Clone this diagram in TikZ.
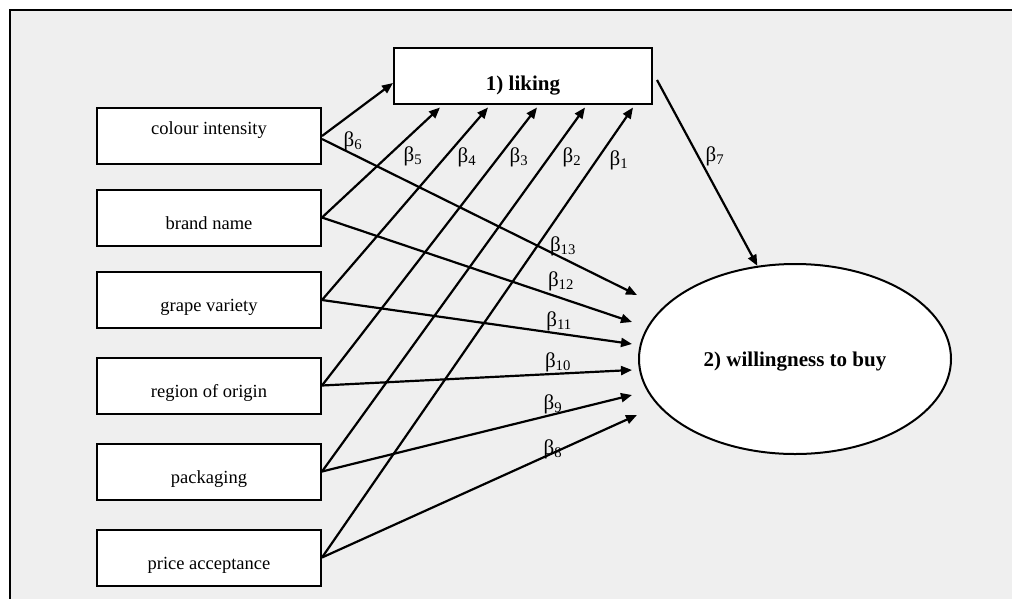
\documentclass[tikz,border=0pt]{standalone}
\usepackage{fontspec}
\setmainfont{Liberation Serif}
\usepackage{tikz}
\usepackage{xcolor}
\usetikzlibrary{shapes.geometric, arrows.meta}
\definecolor{panelgrey}{HTML}{EFEFEF}
\newcommand{\bt}[1]{β\textsubscript{#1}}

\begin{document}
\begin{tikzpicture}[
  x=1pt, y=-1pt,
  factor/.style={draw, fill=white, line width=2pt, minimum width=224pt, minimum height=56pt, inner sep=0pt,
    font=\fontsize{18.5}{22}\selectfont, text height=28pt, text depth=5pt},
  target/.style={draw, fill=white, line width=2pt, inner sep=0pt, font=\fontsize{21}{24}\selectfont\bfseries},
  lbl/.style={inner sep=0pt, font=\fontsize{21}{22}\selectfont},
  arr/.style={-{Triangle[length=11pt,width=9pt]}, line width=2.2pt}
]
\useasboundingbox (0,0) rectangle (1012,598);
\clip (0,0) rectangle (1012,598);
\fill[white] (0,0) rectangle (1012,598);
\draw[fill=panelgrey, line width=2.5pt] (10,10) rectangle (1030,620);

% predictors
\node[factor, text height=12pt, text depth=15pt] (colour) at (209,136) {colour intensity};
\node[factor] (brand)  at (209,217.5) {brand name};
\node[factor] (grape)  at (209,300)   {grape variety};
\node[factor] (region) at (209,385.5) {region of origin};
\node[factor] (pack)   at (209,471.5) {packaging};
\node[factor] (price)  at (209,557.5) {price acceptance};

% outcomes
\node[target, minimum width=258pt, minimum height=56pt, text height=35pt, text depth=5pt] (liking) at (523,75.5) {1) liking};
\node[target, ellipse, minimum width=312pt, minimum height=190pt, text height=20pt, text depth=4.6pt] (buy) at (795,359) {2) willingness to buy};

% paths to liking
\draw[arr] (colour.east) -- ([yshift=-7.5pt]liking.west);
\foreach \f/\dx in {brand/47, grape/95, region/144, pack/192, price/240}
  \draw[arr] (\f.east) -- ([xshift=\dx pt, yshift=-3pt]liking.south west);

% paths to willingness to buy
\draw[arr] ([yshift=-3pt]colour.east) -- ([xshift=-1pt, yshift=64pt]buy.west);
\foreach \f/\dx/\dy in {brand/-6/37, grape/-6/15, region/-6/-11, pack/-6/-36, price/-1/-56}
  \draw[arr] (\f.east) -- ([xshift=\dx pt, yshift=\dy pt]buy.west);
\draw[arr] ([xshift=4pt, yshift=-4.5pt]liking.east) -- (buy.112);

% coefficients
\foreach \i/\x/\y in {1/619/160, 2/572/157, 3/519/157, 4/467/157, 5/413/156, 6/353/141, 7/715/156,
  8/553/449, 9/553/404, 10/558/362, 11/559/321, 12/561/281, 13/563/246}
  \node[lbl] (b\i) at (\x,\y) {\bt{\i}};

\end{tikzpicture}
\end{document}
